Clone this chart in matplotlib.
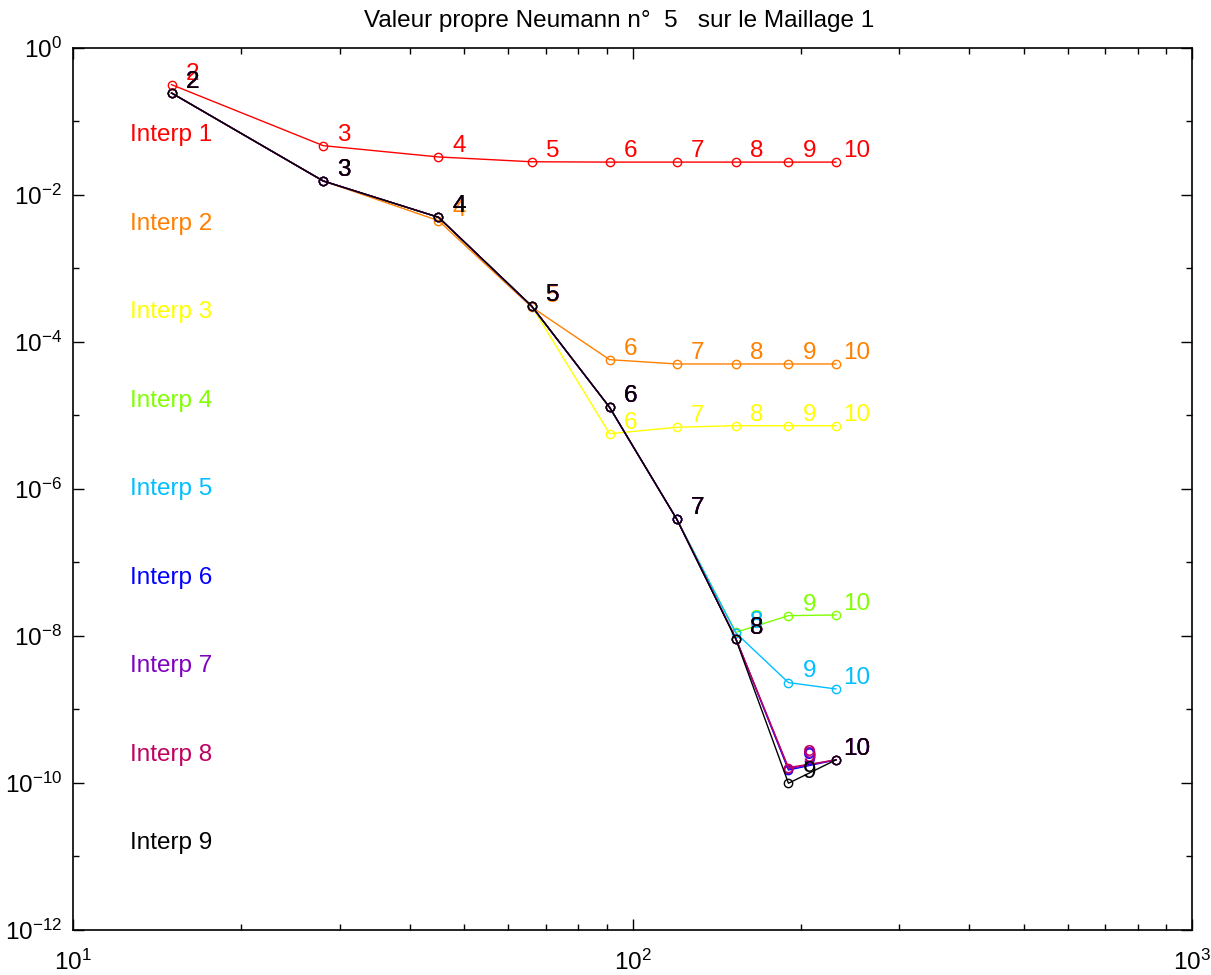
import matplotlib.pyplot as plt
from matplotlib.ticker import FixedLocator, NullFormatter
import numpy as np

plt.rcParams['font.family'] = ['Liberation Sans', 'DejaVu Sans']
plt.rcParams['mathtext.default'] = 'regular'
plt.rcParams['axes.unicode_minus'] = False

# nombre de sommets des maillages successifs (2 .. 10)
nb_sommets = [15, 28, 45, 66, 91, 120, 153, 190, 231]
num_maillage = [2, 3, 4, 5, 6, 7, 8, 9, 10]

# erreur sur la valeur propre pour chaque interpolation
interp1 = [0.317, 0.0469, 0.0329, 0.0283, 0.0280, 0.0280, 0.0280, 0.0280, 0.0280]
interp2 = [0.244, 0.0155, 4.47e-3, 2.99e-4, 5.74e-5, 5.02e-5, 5.02e-5, 5.02e-5, 5.02e-5]
interp3 = [0.244, 0.0155, 4.97e-3, 3.09e-4, 5.65e-6, 6.91e-6, 7.26e-6, 7.26e-6, 7.26e-6]
interp4 = [0.244, 0.0155, 4.97e-3, 3.09e-4, 1.29e-5, 3.87e-7, 1.12e-8, 1.89e-8, 1.93e-8]
interp5 = [0.244, 0.0155, 4.97e-3, 3.09e-4, 1.29e-5, 3.87e-7, 1.10e-8, 2.32e-9, 1.90e-9]
interp6 = [0.244, 0.0155, 4.97e-3, 3.09e-4, 1.29e-5, 3.87e-7, 9.2e-9, 1.50e-10, 2.06e-10]
interp7 = [0.244, 0.0155, 4.97e-3, 3.09e-4, 1.29e-5, 3.87e-7, 9.2e-9, 1.56e-10, 2.06e-10]
interp8 = [0.244, 0.0155, 4.97e-3, 3.09e-4, 1.29e-5, 3.87e-7, 9.2e-9, 1.62e-10, 2.06e-10]
interp9 = [0.244, 0.0155, 4.97e-3, 3.09e-4, 1.29e-5, 3.87e-7, 9.0e-9, 9.9e-11, 2.06e-10]

series = [interp1, interp2, interp3, interp4, interp5, interp6, interp7, interp8, interp9]
noms = ['Interp 1', 'Interp 2', 'Interp 3', 'Interp 4', 'Interp 5',
        'Interp 6', 'Interp 7', 'Interp 8', 'Interp 9']
couleurs = ['#ff0000', '#ff8000', '#ffff00', '#80ff00', '#00bfff',
            '#0000ff', '#8000c0', '#c00060', '#000000']

fig = plt.figure(figsize=(12.11, 9.75), dpi=100)
ax = fig.add_axes([0.0603, 0.0462, 0.924, 0.9046])

for k, (y, c) in enumerate(zip(series, couleurs)):
    ax.plot(nb_sommets, y, '-o', color=c, lw=1.0, ms=6, mfc='none', mew=1.0)
    for x, v, n in zip(nb_sommets, y, num_maillage):
        ax.annotate(str(n), (x, v), textcoords='offset points', xytext=(15, 8),
                    ha='center', va='center', color=c, fontsize=17.5)
    ax.text(0.051, 0.901 - 0.1003 * k, noms[k], transform=ax.transAxes,
            color=c, fontsize=17.5, ha='left', va='center')

ax.set_xscale('log')
ax.set_yscale('log')
ax.set_xlim(10, 1000)
ax.set_ylim(1e-12, 1)

ax.set_xticks([10, 100, 1000])
ax.set_xticklabels([r'$10^{1}$', r'$10^{2}$', r'$10^{3}$'])
ax.xaxis.set_minor_locator(FixedLocator([20, 30, 40, 50, 60, 70, 80, 90,
                                         200, 300, 400, 500, 600, 700, 800, 900]))
ax.xaxis.set_minor_formatter(NullFormatter())

exps = np.arange(-12, 1, 2)
ax.set_yticks([10.0 ** e for e in exps])
ax.set_yticklabels([r'$10^{%d}$' % e for e in exps])
ax.yaxis.set_minor_locator(FixedLocator([10.0 ** e for e in range(-11, 0, 2)]))
ax.yaxis.set_minor_formatter(NullFormatter())

ax.tick_params(which='both', direction='in', top=True, right=True, labelsize=17.5)
ax.tick_params(which='major', length=8, width=1.0)
ax.tick_params(which='minor', length=4, width=1.0)
ax.tick_params(axis='x', pad=14)
ax.tick_params(axis='y', pad=8)
for s in ax.spines.values():
    s.set_linewidth(1.2)

ax.set_title('Valeur propre Neumann n°  5   sur le Maillage 1    ', fontsize=17.5, pad=15)

fig.savefig('out.png', dpi=100)
